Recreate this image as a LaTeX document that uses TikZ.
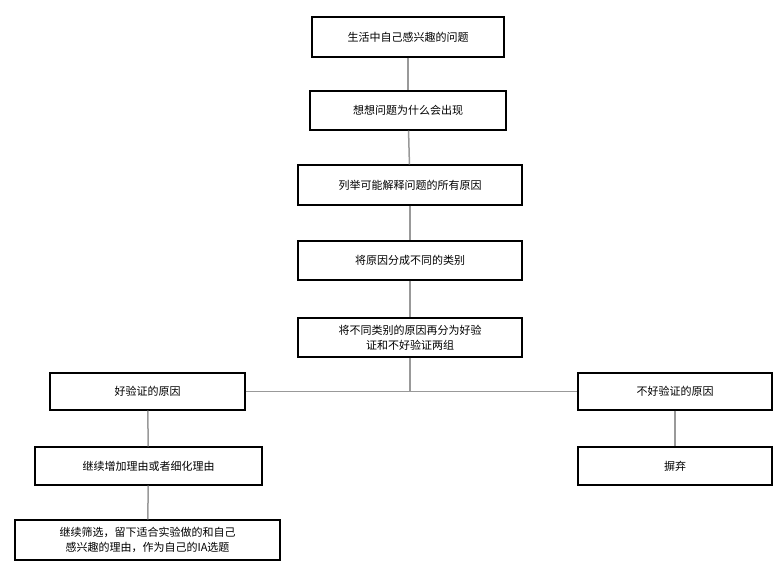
\documentclass[tikz,border=0pt]{standalone}
\usepackage{fontspec}
\setmainfont{Noto Sans CJK SC}
\begin{document}
\begin{tikzpicture}[x=1pt,y=-1pt,
  box/.style={draw=black,line width=1.3pt,fill=white,inner sep=0pt,align=center,font=\fontsize{11}{15}\selectfont},
  link/.style={draw=black!40,line width=1.5pt}]
\useasboundingbox (0,0) rectangle (784,569);
\node[box,minimum width=192,minimum height=40] (a) at (408,37) {生活中自己感兴趣的问题};
\node[box,minimum width=196,minimum height=39] (b) at (408,110.5) {想想问题为什么会出现};
\node[box,minimum width=224,minimum height=40] (c) at (410,185) {列举可能解释问题的所有原因};
\node[box,minimum width=224,minimum height=39] (d) at (410,260.5) {将原因分成不同的类别};
\node[box,minimum width=224,minimum height=39] (e) at (410,337.5) {将不同类别的原因再分为好验\\证和不好验证两组};
\node[box,minimum width=195,minimum height=37] (l) at (147.5,391.5) {好验证的原因};
\node[box,minimum width=194,minimum height=37] (r) at (675,391.5) {不好验证的原因};
\node[box,minimum width=227,minimum height=38] (l2) at (148.5,466) {继续增加理由或者细化理由};
\node[box,minimum width=194,minimum height=38] (r2) at (675,466) {摒弃};
\node[box,minimum width=265,minimum height=40] (l3) at (147.5,540) {继续筛选，留下适合实验做的和自己\\感兴趣的理由，作为自己的IA选题};
\coordinate (j) at (e.south |- l.east);
\draw[link] (a) -- (b);
\draw[link] (b) -- (c);
\draw[link] (c) -- (d);
\draw[link] (d) -- (e);
\draw[link] (e) -- (j);
\draw[link] (l) -- (r);
\draw[link] (l) -- (l2);
\draw[link] (r) -- (r2);
\draw[link] (l2) -- (l3);
\end{tikzpicture}
\end{document}
